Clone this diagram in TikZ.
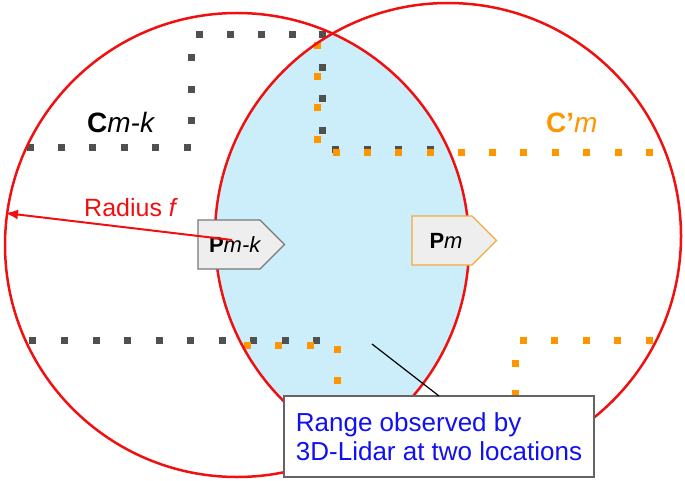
\documentclass[tikz,border=0pt]{standalone}
\usepackage{fontspec}
\setmainfont{Liberation Sans}
\usetikzlibrary{shapes.symbols,arrows.meta}
\definecolor{redc}{RGB}{240,16,16}
\definecolor{darkdot}{RGB}{80,80,80}
\definecolor{orangedot}{RGB}{255,150,0}
\definecolor{orangebd}{RGB}{245,170,60}
\definecolor{graybd}{RGB}{120,120,120}
\definecolor{pfill}{RGB}{238,238,238}
\definecolor{lensc}{RGB}{204,237,250}
\definecolor{bluet}{RGB}{16,16,240}
\definecolor{boxbd}{RGB}{100,100,100}
\newcommand\dsq[3]{\fill[#1] ({#2-3.5},{#3-3.5}) rectangle ({#2+3.5},{#3+3.5});}
\begin{document}
\begin{tikzpicture}[x=1pt,y=-1pt,
  redline/.style={draw=redc,line width=2.5pt},
  pnode/.style={signal,signal to=east,signal from=nowhere,signal pointer angle=90,
    fill=pfill,line width=1.2pt,minimum height=49pt,inner sep=0pt,outer sep=0pt,
    font=\fontsize{22}{26}\selectfont},
  biglab/.style={anchor=base west,inner sep=0pt,font=\fontsize{28}{32}\selectfont}]
\useasboundingbox (0,0) rectangle (685,481);
\coordinate (cl) at (237,245);
\coordinate (cr) at (448,236);
% lens
\begin{scope}
\clip (cl) circle[radius=232];
\fill[lensc] (cr) circle[radius=233];
\end{scope}
% dark dotted outline
\foreach \x in {199,230,261,292,322} {\dsq{darkdot}{\x}{35}}
\foreach \y in {58,90,121} {\dsq{darkdot}{191}{\y}}
\foreach \x in {30,61,92,124,155,187} {\dsq{darkdot}{\x}{148}}
\foreach \y in {68,99,131} {\dsq{darkdot}{322}{\y}}
\foreach \x in {335,367,398,430} {\dsq{darkdot}{\x}{150}}
\foreach \x in {32,64,96,127,159,190,222,253,285,316} {\dsq{darkdot}{\x}{340}}
% orange dotted outline
\foreach \y in {46,77,108,140} {\dsq{orangedot}{317}{\y}}
\foreach \x in {336,367,398,430,461,492,523,555,586,618,649} {\dsq{orangedot}{\x}{153}}
\foreach \x in {247,278,310} {\dsq{orangedot}{\x}{345}}
\foreach \y in {349,380} {\dsq{orangedot}{337}{\y}}
\foreach \x in {523,554,586,617,649} {\dsq{orangedot}{\x}{340}}
\foreach \y in {363,393} {\dsq{orangedot}{515}{\y}}
% circles
\draw[redline] (cl) circle[radius=232];
\draw[redline] (cr) circle[radius=233];
% position nodes
\node[pnode,draw=graybd] (pmk) at (229,244.5)
  {\makebox[62pt][l]{\hspace{11pt}\textbf{P}\textit{m-k}}};
\node[pnode,draw=orangebd] (pm) at (442,240.5)
  {\makebox[60pt][l]{\hspace{17.5pt}\textbf{P}\textit{m}}};
% radius arrow
\coordinate (rstart) at (232,240);
\coordinate (redge) at (5,213);
\draw[draw=redc,line width=2pt,-{Latex[length=13pt,width=10pt]}] (rstart) -- (redge);
\node[anchor=base west,inner sep=0pt,text=redc,font=\fontsize{25}{30}\selectfont] (rlab) at (84,217) {Radius \textit{f}};
% map labels
\node[biglab] (cmk) at (87,133) {\textbf{C}\textit{m-k}};
\node[biglab,text=orangedot] (cpm) at (546,133) {\textbf{C'}\textit{m}};
% callout
\node[draw=boxbd,line width=1.5pt,fill=white,anchor=north west,outer sep=0pt,
  minimum width=310pt,minimum height=81pt,align=left,inner xsep=10pt,inner ysep=0pt,
  text=bluet,font=\fontsize{26}{29.5}\selectfont] (box) at (284,396)
  {Range observed by\\3D-Lidar at two locations};
\coordinate (lp) at (372,344);
\draw[black,line width=1.2pt] (lp) -- (box.north);
\end{tikzpicture}
\end{document}
